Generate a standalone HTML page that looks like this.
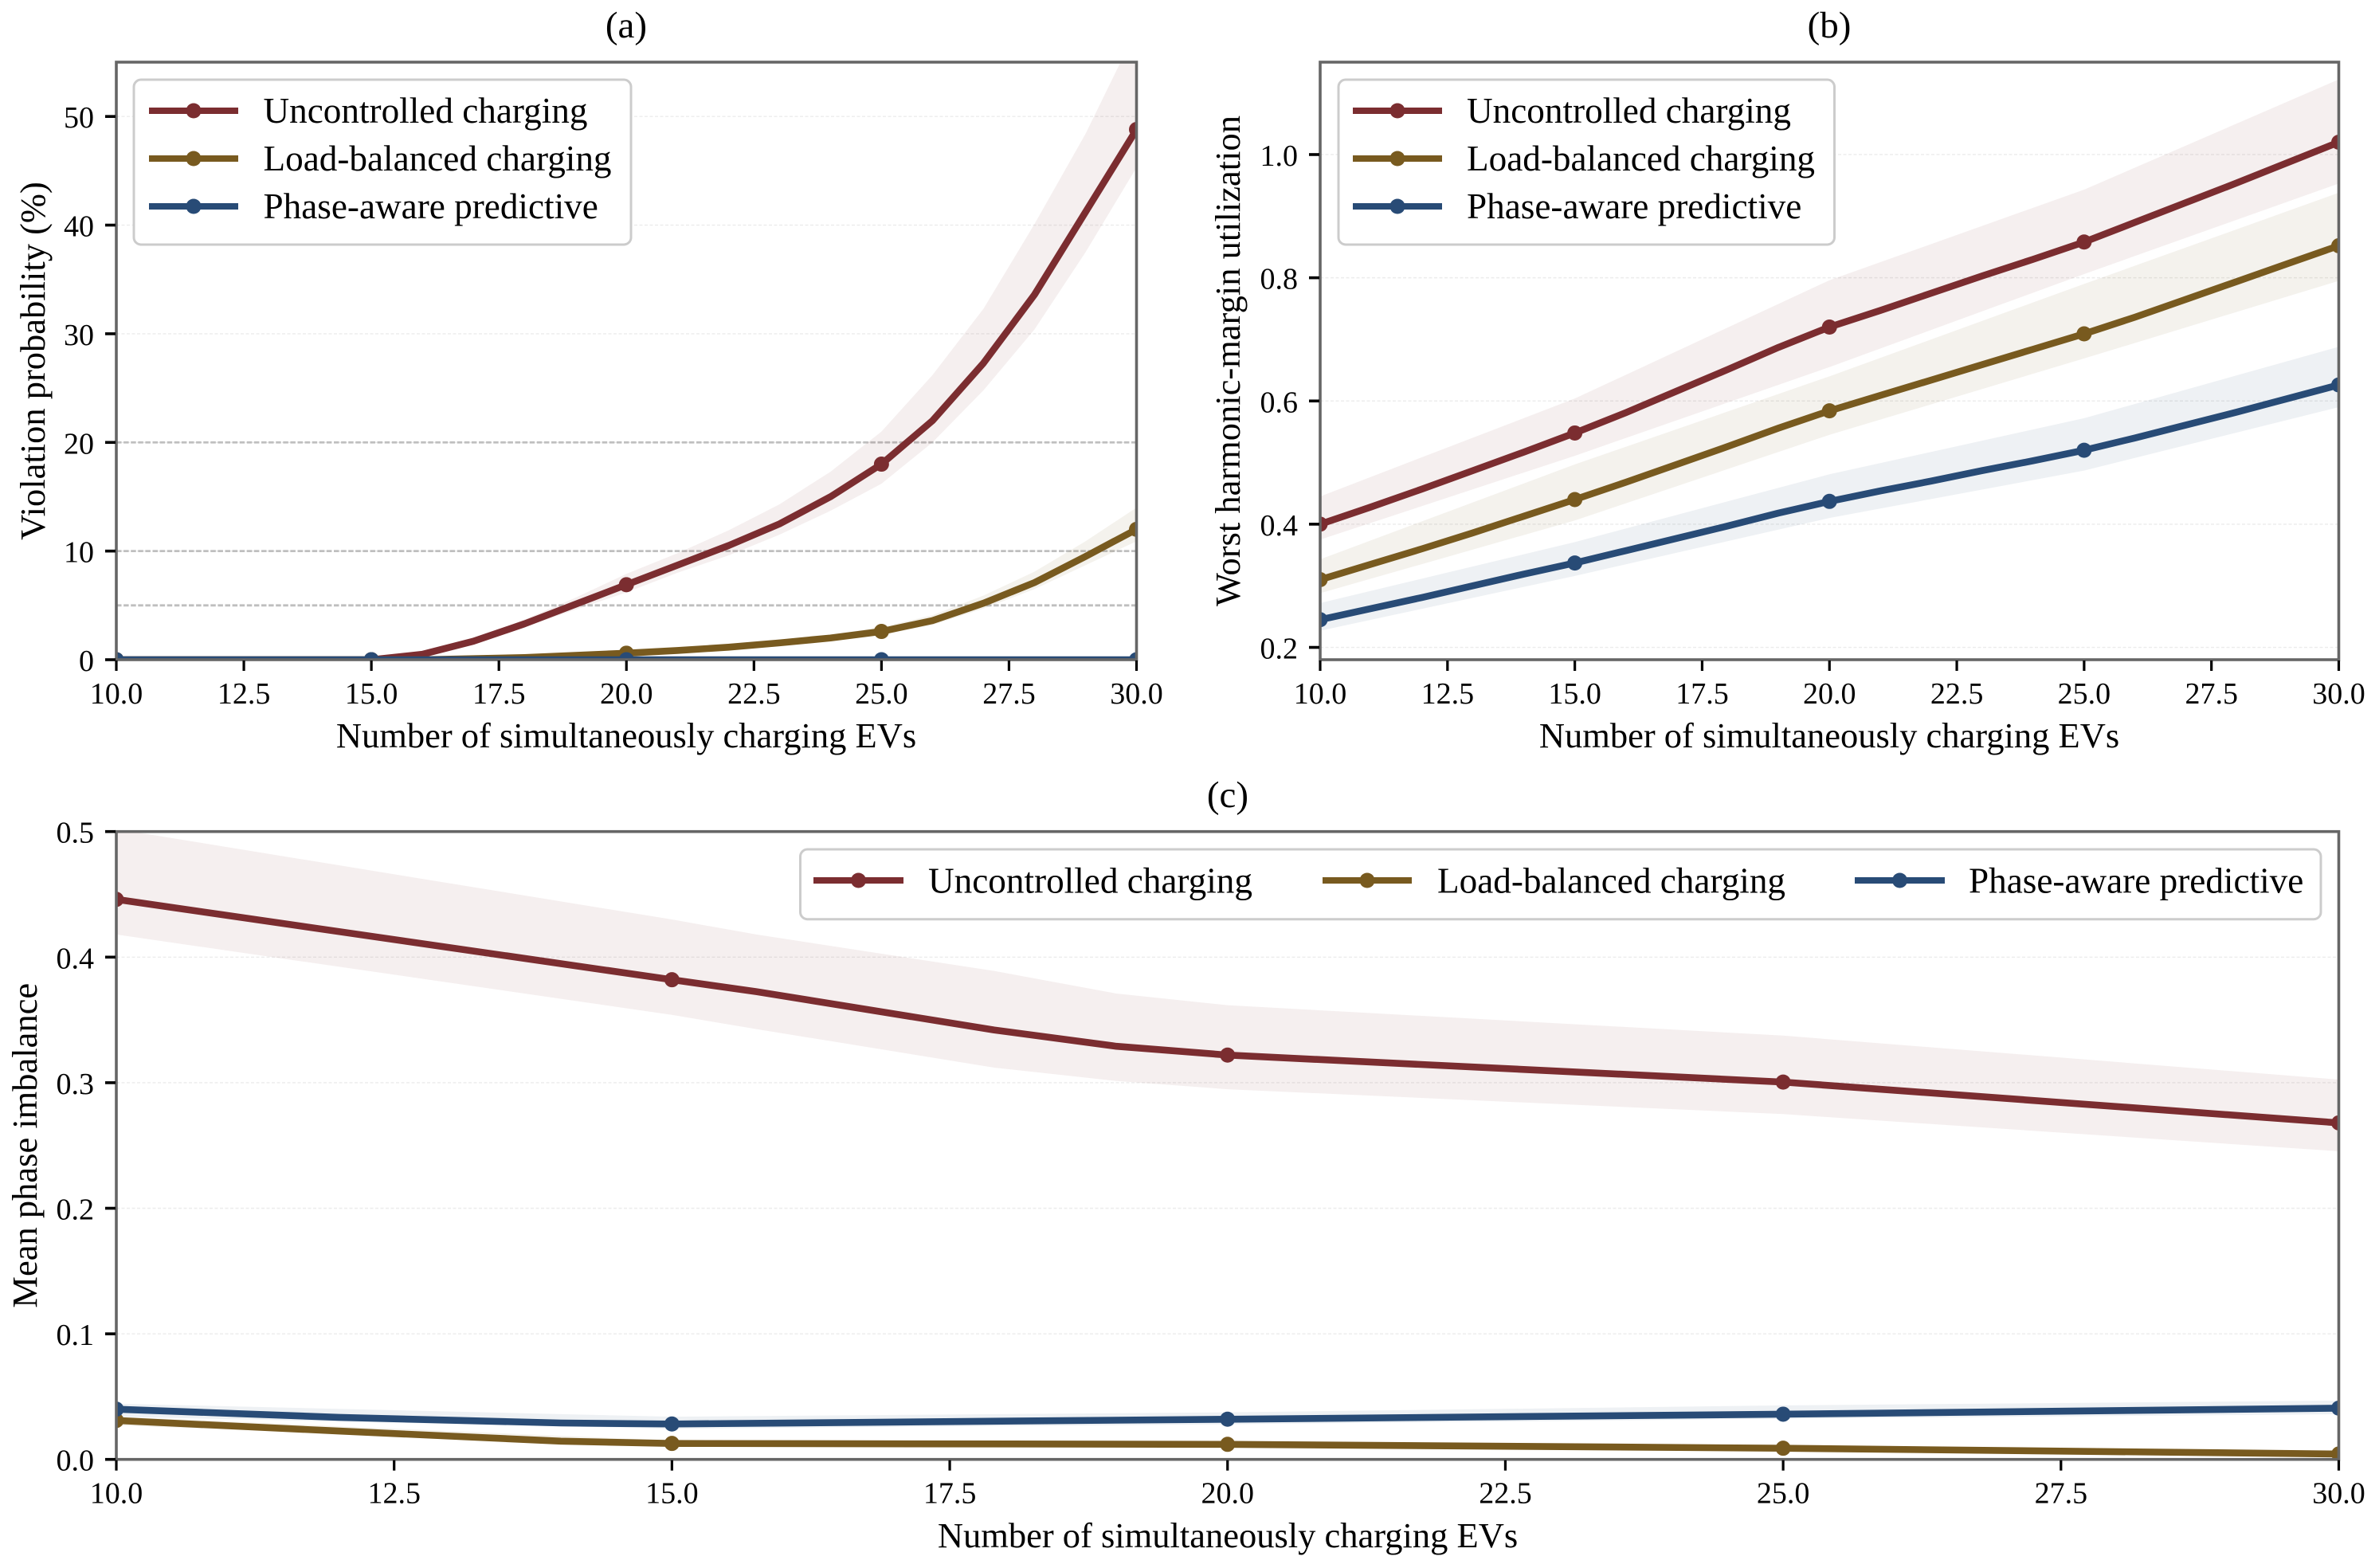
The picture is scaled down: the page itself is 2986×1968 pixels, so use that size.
<!DOCTYPE html>
<html>
<head>
<meta charset="utf-8">
<title>EV charging comparison</title>
<style>
html,body{margin:0;padding:0;background:#fff;}
svg{display:block;}
text{font-family:"Liberation Serif","Times New Roman",serif;fill:#000;}
.lab{font-size:44.5px;}
.ttl{font-size:47px;}
.leg{font-size:45.2px;}
.tick{font-size:38px;}
</style>
</head>
<body>
<svg id="chart" width="2986" height="1968" viewBox="0 0 2986 1968" xmlns="http://www.w3.org/2000/svg">
<rect x="0" y="0" width="2986" height="1968" fill="#fff"/>
<defs>
<clipPath id="clip-a"><rect x="146" y="78" width="1280.5" height="750"/></clipPath>
<clipPath id="clip-b"><rect x="1657" y="78" width="1278.5" height="750"/></clipPath>
<clipPath id="clip-c"><rect x="146" y="1043.7" width="2789.5" height="788"/></clipPath>
</defs>
<g id="layer-a"></g>
<g id="layer-b"></g>
<g id="layer-c"></g>

<text class="ttl" x="786" y="47" text-anchor="middle">(a)</text>
<text class="ttl" x="2296" y="47" text-anchor="middle">(b)</text>
<text class="ttl" x="1541" y="1013" text-anchor="middle">(c)</text>
<text class="lab" x="786" y="938" text-anchor="middle">Number of simultaneously charging EVs</text>
<text class="lab" x="2296" y="938" text-anchor="middle">Number of simultaneously charging EVs</text>
<text class="lab" x="1541" y="1942" text-anchor="middle">Number of simultaneously charging EVs</text>
<text class="lab" transform="translate(56 453) rotate(-90)" text-anchor="middle">Violation probability (%)</text>
<text class="lab" transform="translate(1556 453) rotate(-90)" text-anchor="middle">Worst harmonic-margin utilization</text>
<text class="lab" transform="translate(46 1437.7) rotate(-90)" text-anchor="middle">Mean phase imbalance</text>

<g id="legend-a">
<rect x="168" y="100" width="624" height="207" rx="9" fill="#fff" stroke="#ccc" stroke-width="3"/>
<g><line x1="187" y1="139" x2="299" y2="139" stroke="#7b2d30" stroke-width="8"/><circle cx="243" cy="139" r="9.5" fill="#7b2d30"/><text class="leg" x="330.5" y="154">Uncontrolled charging</text></g>
<g><line x1="187" y1="199" x2="299" y2="199" stroke="#785a1f" stroke-width="8"/><circle cx="243" cy="199" r="9.5" fill="#785a1f"/><text class="leg" x="330.5" y="214">Load-balanced charging</text></g>
<g><line x1="187" y1="259" x2="299" y2="259" stroke="#284b76" stroke-width="8"/><circle cx="243" cy="259" r="9.5" fill="#284b76"/><text class="leg" x="330.5" y="274">Phase-aware predictive</text></g>
</g>
<g id="legend-b">
<rect x="1680" y="100" width="622.5" height="207" rx="9" fill="#fff" stroke="#ccc" stroke-width="3"/>
<g><line x1="1698" y1="139" x2="1810" y2="139" stroke="#7b2d30" stroke-width="8"/><circle cx="1754" cy="139" r="9.5" fill="#7b2d30"/><text class="leg" x="1841" y="154">Uncontrolled charging</text></g>
<g><line x1="1698" y1="199" x2="1810" y2="199" stroke="#785a1f" stroke-width="8"/><circle cx="1754" cy="199" r="9.5" fill="#785a1f"/><text class="leg" x="1841" y="214">Load-balanced charging</text></g>
<g><line x1="1698" y1="259" x2="1810" y2="259" stroke="#284b76" stroke-width="8"/><circle cx="1754" cy="259" r="9.5" fill="#284b76"/><text class="leg" x="1841" y="274">Phase-aware predictive</text></g>
</g>
<g id="legend-c">
<rect x="1004.5" y="1066" width="1908.5" height="87.7" rx="9" fill="#fff" stroke="#ccc" stroke-width="3"/>
<g><line x1="1021" y1="1105" x2="1134" y2="1105" stroke="#7b2d30" stroke-width="8"/><circle cx="1077.5" cy="1105" r="9.5" fill="#7b2d30"/><text class="leg" x="1165" y="1120.5">Uncontrolled charging</text></g>
<g><line x1="1660" y1="1105" x2="1772" y2="1105" stroke="#785a1f" stroke-width="8"/><circle cx="1716" cy="1105" r="9.5" fill="#785a1f"/><text class="leg" x="1804" y="1120.5">Load-balanced charging</text></g>
<g><line x1="2328" y1="1105" x2="2441" y2="1105" stroke="#284b76" stroke-width="8"/><circle cx="2384.5" cy="1105" r="9.5" fill="#284b76"/><text class="leg" x="2471" y="1120.5">Phase-aware predictive</text></g>
</g>
</svg>
<script>
// Shared x-axis ticks
const xTicks = [10, 12.5, 15, 17.5, 20, 22.5, 25, 27.5, 30];
const markerXs = [10, 15, 20, 25, 30];

// Panel (a): violation probability
const aX = [10,11,12,13,14,15,16,17,18,19,20,21,22,23,24,25,26,27,28,29,30];
const aYTicks = [0, 10, 20, 30, 40, 50];
const aThresholds = [5, 10, 20];
const aRed = [0,0,0,0,0,0,0.5,1.7,3.3,5.1,6.9,8.7,10.5,12.5,15,18,22,27.3,33.6,41.2,48.8];
const aRedHigh = [0,0,0,0,0,0,0.6,1.9,3.7,5.7,7.9,9.8,11.9,14.3,17.3,21,26.2,32.3,40.1,48.4,58];
const aRedLow = [0,0,0,0,0,0,0.4,1.5,3.0,4.6,6.2,8.0,9.6,11.5,13.7,16.2,20,24.8,30.4,37.5,45.3];
const aBrown = [0,0,0,0,0,0,0,0.1,0.2,0.4,0.6,0.85,1.15,1.55,2.0,2.6,3.6,5.2,7.1,9.5,12];
const aBrownHigh = [0,0,0,0,0,0,0,0.12,0.24,0.48,0.72,1.0,1.35,1.8,2.3,3.0,4.1,5.9,8.1,10.9,14];
const aBrownLow = [0,0,0,0,0,0,0,0.08,0.17,0.34,0.5,0.72,1.0,1.35,1.75,2.3,3.2,4.7,6.5,8.7,10.9];
const aBlue = [0,0,0,0,0,0,0,0,0,0,0,0,0,0,0,0,0,0,0,0,0];

// Panel (b): worst harmonic-margin utilization
const bX = [10,11,12,13,14,15,16,17,18,19,20,21,22,23,24,25,26,27,28,29,30];
const bBandX = [10, 15, 20, 25, 30];
const bYTicks = [0.2, 0.4, 0.6, 0.8, 1.0];
const bRed = [0.40,0.428,0.457,0.487,0.517,0.548,0.581,0.616,0.651,0.687,0.72,0.747,0.775,0.803,0.83,0.858,0.89,0.922,0.954,0.987,1.02];
const bBrown = [0.31,0.335,0.36,0.386,0.413,0.44,0.468,0.497,0.526,0.556,0.584,0.609,0.634,0.659,0.684,0.709,0.736,0.765,0.794,0.823,0.852];
const bBlue = [0.245,0.263,0.281,0.3,0.319,0.337,0.357,0.377,0.397,0.418,0.437,0.454,0.47,0.487,0.503,0.52,0.54,0.561,0.582,0.604,0.626];
const bRedHigh = [0.445,0.604,0.796,0.943,1.122];
const bRedLow = [0.375,0.511,0.655,0.806,0.953];
const bBrownHigh = [0.343,0.497,0.64,0.79,0.938];
const bBrownLow = [0.288,0.406,0.545,0.669,0.795];
const bBlueHigh = [0.272,0.371,0.481,0.572,0.688];
const bBlueLow = [0.227,0.316,0.41,0.487,0.59];

// Panel (c): mean phase imbalance
const cRedX = [10,15,15.76,17.9,19,20,25,30];
const cLowX = [10,12,14,15,20,25,30];
const cBandX = [10,15,20,25,30];
const cYTicks = [0, 0.1, 0.2, 0.3, 0.4, 0.5];
const cRed = [0.446,0.382,0.3725,0.342,0.329,0.322,0.3005,0.268];
const cRedHigh = [0.502,0.43,0.418,0.389,0.371,0.3617,0.3375,0.3025];
const cRedLow = [0.418,0.354,0.3427,0.312,0.3014,0.2948,0.275,0.2454];
const cBrown = [0.031,0.0226,0.0145,0.0127,0.012,0.0089,0.0043];
const cBlue = [0.04,0.0335,0.029,0.0282,0.032,0.036,0.0408];
const cBrownHigh = [0.034,0.015,0.014,0.01,0.005];
const cBrownLow = [0.027,0.0115,0.0105,0.008,0.0035];
const cBlueHigh = [0.0444,0.034,0.0375,0.043,0.0468];
const cBlueLow = [0.034,0.0245,0.028,0.0324,0.036];

const SVGNS = 'http://www.w3.org/2000/svg';
const RED = '#7b2d30', BROWN = '#785a1f', BLUE = '#284b76';

function make(parent, tag, attrs) {
  const n = document.createElementNS(SVGNS, tag);
  for (const k in attrs) n.setAttribute(k, attrs[k]);
  parent.appendChild(n);
  return n;
}
function interp(xs, ys, x) {
  for (let i = 0; i < xs.length - 1; i++) {
    if (x >= xs[i] && x <= xs[i + 1]) {
      return ys[i] + (ys[i + 1] - ys[i]) * (x - xs[i]) / (xs[i + 1] - xs[i]);
    }
  }
  return ys[ys.length - 1];
}
function drawPanel(p) {
  const root = document.getElementById(p.layer);
  const xS = v => p.left + (v - 10) * (p.right - p.left) / 20;
  const yS = v => p.bottom - (v - p.yMin) * (p.bottom - p.top) / (p.yMax - p.yMin);

  p.yTicks.forEach(t => {
    const g = make(root, 'line', {x1: p.left, x2: p.right, y1: yS(t), y2: yS(t), stroke: '#ececec', 'stroke-width': 1.4, 'stroke-dasharray': '4 2.5'});
    
    
  });
  (p.thresholds || []).forEach(t => {
    const g = make(root, 'line', {x1: p.left, x2: p.right, y1: yS(t), y2: yS(t), stroke: '#bfbfbf', 'stroke-width': 2.8, 'stroke-dasharray': '6.5 2.6'});
    
    
  });

  const plot = make(root, 'g', {'clip-path': 'url(#' + p.clip + ')'});
  
  

  p.series.forEach(s => {
    if (s.high) {
      const up = s.bandX.map((x, i) => xS(x).toFixed(2) + ',' + yS(s.high[i]).toFixed(2));
      const dn = s.bandX.map((x, i) => xS(x).toFixed(2) + ',' + yS(s.low[i]).toFixed(2)).reverse();
      const band = make(plot, 'polygon', {points: up.concat(dn).join(' '), fill: s.color, 'fill-opacity': 0.08});
      
      
    }
  });
  p.series.forEach(s => {
    const pts = s.x.map((x, i) => xS(x).toFixed(2) + ',' + yS(s.y[i]).toFixed(2)).join(' ');
    const line = make(plot, 'polyline', {points: pts, fill: 'none', stroke: s.color, 'stroke-width': 8.6, 'stroke-linejoin': 'round'});
    
    
    markerXs.forEach(mx => {
      const c = make(plot, 'circle', {cx: xS(mx), cy: yS(interp(s.x, s.y, mx)), r: 9.5, fill: s.color});
      
      
    });
  });

  const frame = make(root, 'rect', {x: p.left, y: p.top, width: p.right - p.left, height: p.bottom - p.top, fill: 'none', stroke: '#666', 'stroke-width': 3.6});
  
  

  xTicks.forEach(t => {
    const m = make(root, 'line', {x1: xS(t), x2: xS(t), y1: p.bottom + 1, y2: p.bottom + 14, stroke: '#000', 'stroke-width': 3.2});
    
    
    const l = make(root, 'text', {x: xS(t), y: p.bottom + 55, 'text-anchor': 'middle', class: 'tick'});
    
    
    l.textContent = t.toFixed(1);
  });
  p.yTicks.forEach(t => {
    const m = make(root, 'line', {x1: p.left - 14, x2: p.left - 1, y1: yS(t), y2: yS(t), stroke: '#000', 'stroke-width': 3.6});
    
    
    const l = make(root, 'text', {x: p.left - 28, y: yS(t) + 14, 'text-anchor': 'end', class: 'tick'});
    
    
    l.textContent = p.yDigits ? t.toFixed(p.yDigits) : String(t);
  });
}

drawPanel({
  layer: 'layer-a', clip: 'clip-a', left: 146, right: 1426.5, top: 78, bottom: 828,
  yMin: 0, yMax: 55, yTicks: aYTicks, yDigits: 0, thresholds: aThresholds,
  series: [
    {name: 'uncontrolled', color: RED, x: aX, y: aRed, bandX: aX, high: aRedHigh, low: aRedLow},
    {name: 'load-balanced', color: BROWN, x: aX, y: aBrown, bandX: aX, high: aBrownHigh, low: aBrownLow},
    {name: 'phase-aware', color: BLUE, x: aX, y: aBlue}
  ]
});
drawPanel({
  layer: 'layer-b', clip: 'clip-b', left: 1657, right: 2935.5, top: 78, bottom: 828,
  yMin: 0.18, yMax: 1.15, yTicks: bYTicks, yDigits: 1,
  series: [
    {name: 'uncontrolled', color: RED, x: bX, y: bRed, bandX: bBandX, high: bRedHigh, low: bRedLow},
    {name: 'load-balanced', color: BROWN, x: bX, y: bBrown, bandX: bBandX, high: bBrownHigh, low: bBrownLow},
    {name: 'phase-aware', color: BLUE, x: bX, y: bBlue, bandX: bBandX, high: bBlueHigh, low: bBlueLow}
  ]
});
drawPanel({
  layer: 'layer-c', clip: 'clip-c', left: 146, right: 2935.5, top: 1043.7, bottom: 1831.7,
  yMin: 0, yMax: 0.5, yTicks: cYTicks, yDigits: 1,
  series: [
    {name: 'uncontrolled', color: RED, x: cRedX, y: cRed, bandX: cRedX, high: cRedHigh, low: cRedLow},
    {name: 'load-balanced', color: BROWN, x: cLowX, y: cBrown, bandX: cBandX, high: cBrownHigh, low: cBrownLow},
    {name: 'phase-aware', color: BLUE, x: cLowX, y: cBlue, bandX: cBandX, high: cBlueHigh, low: cBlueLow}
  ]
});
</script>
</body>
</html>
